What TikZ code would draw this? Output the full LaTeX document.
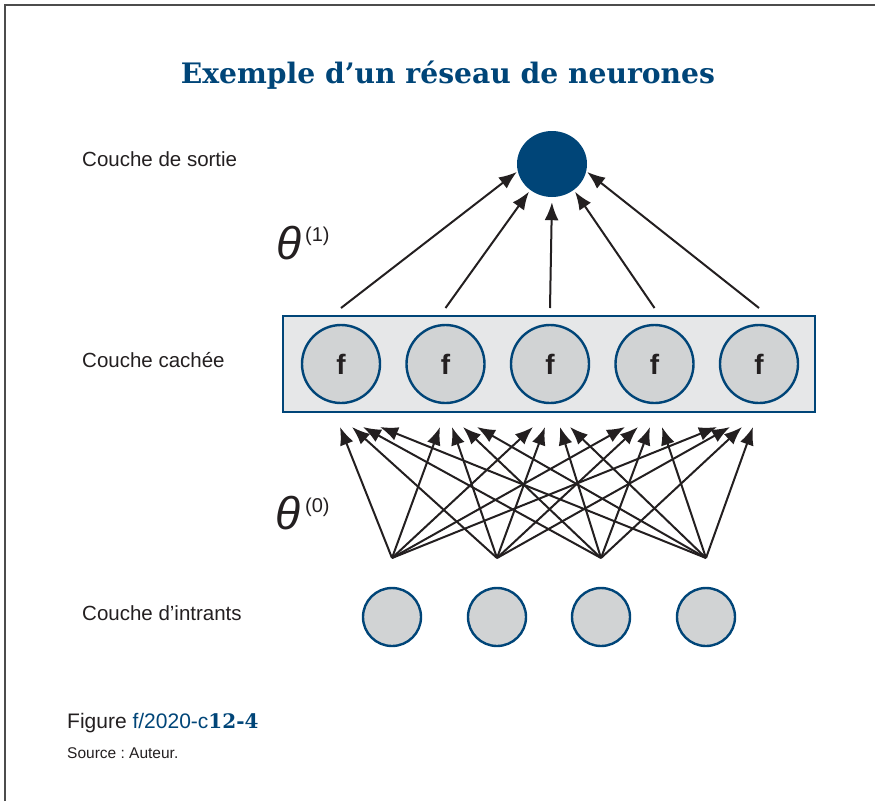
\documentclass[tikz,border=0pt]{standalone}
\usepackage{fontspec}
\setmainfont{Liberation Sans}
\newfontfamily\slab{DejaVu Serif}
\usetikzlibrary{arrows.meta,shapes.geometric}
\definecolor{dblue}{RGB}{0,69,120}
\definecolor{ink}{RGB}{35,31,32}
\definecolor{cgray}{RGB}{209,211,212}
\definecolor{bgray}{RGB}{230,231,232}
\frenchspacing
\begin{document}
\begin{tikzpicture}[x=1pt,y=-1pt,
  conn/.style={draw=ink, line width=2pt, -{Latex[length=18pt,width=14pt]}},
  hid/.style={circle, draw=dblue, line width=2.4pt, fill=cgray, minimum size=78pt, inner sep=0pt, font=\fontsize{28}{28}\selectfont\bfseries, text=ink},
  inp/.style={circle, draw=dblue, line width=2.4pt, fill=cgray, minimum size=58pt, inner sep=0pt},
  lab/.style={anchor=base west, inner sep=0pt, font=\fontsize{20.5}{20.5}\selectfont, text=ink},
  txt/.style={anchor=base west, inner sep=0pt, text=ink}]
\useasboundingbox (0,0) rectangle (875,801);
\draw[line width=1.3pt, gray!60!black] (5,801) -- (5,5) -- (875,5);

\node[anchor=base, inner sep=0pt, text=dblue, font=\slab\bfseries\fontsize{28.2}{28.2}\selectfont] (title) at (448,83) {Exemple d’un réseau de neurones};

\node[lab] (lout) at (82,166) {Couche de sortie};
\node[lab] (lhid) at (82,367) {Couche cachée};
\node[lab] (linp) at (82,620) {Couche d’intrants};

\node[ellipse, fill=dblue, minimum width=70pt, minimum height=66pt, inner sep=0pt] (out) at (552,164) {};

\node[draw=dblue, line width=2.4pt, fill=bgray, minimum width=532pt, minimum height=96pt, inner sep=0pt] (box) at (549,364) {};
\foreach \i/\x in {1/341,2/445.5,3/550,4/654.5,5/759}{
  \node[hid] (h\i) at (\x,364) {f};
  \coordinate (t\i) at (\x,308);
}
\foreach \j/\x in {1/392,2/497,3/601,4/706}{
  \node[inp] (i\j) at (\x,617) {};
  \coordinate (s\j) at (\x,558);
}
\foreach \h/\xa/\xb/\xc/\xd in {1/340/352/363/380,2/440/452/463/477,3/533/545/560/570,4/625/638/650/662,5/717/730/742/753}{
  \coordinate (e\h-1) at (\xa,427);
  \coordinate (e\h-2) at (\xb,427);
  \coordinate (e\h-3) at (\xc,427);
  \coordinate (e\h-4) at (\xd,427);
}
\foreach \h in {1,...,5}{
  \foreach \j in {1,...,4}{
    \draw[conn] (s\j) -- (e\h-\j);
  }
}
\draw[conn, shorten >=1pt] (t1) -- (out.192);
\draw[conn, shorten >=2pt] (t2) -- (out.230);
\draw[conn, shorten >=5pt] (t3) -- (out.south);
\draw[conn, shorten >=2pt] (t4) -- (out.310);
\draw[conn, shorten >=1pt] (t5) -- (out.348);

\node[txt, font=\fontsize{46}{46}\selectfont\itshape] (th1) at (276,259) {θ};
\node[txt, font=\fontsize{20}{20}\selectfont] (th1s) at (305,241) {(1)};
\node[txt, font=\fontsize{46}{46}\selectfont\itshape] (th0) at (275,529) {θ};
\node[txt, font=\fontsize{20}{20}\selectfont] (th0s) at (305,512) {(0)};

\node[txt, font=\fontsize{21}{21}\selectfont] (fig) at (67,728) {Figure \textcolor{dblue}{f/2020-c{\slab\bfseries\fontsize{20}{20}\selectfont 12-4}}};
\node[txt, font=\fontsize{15.5}{15.5}\selectfont] (src) at (67,758) {Source : Auteur.};
\end{tikzpicture}
\end{document}
